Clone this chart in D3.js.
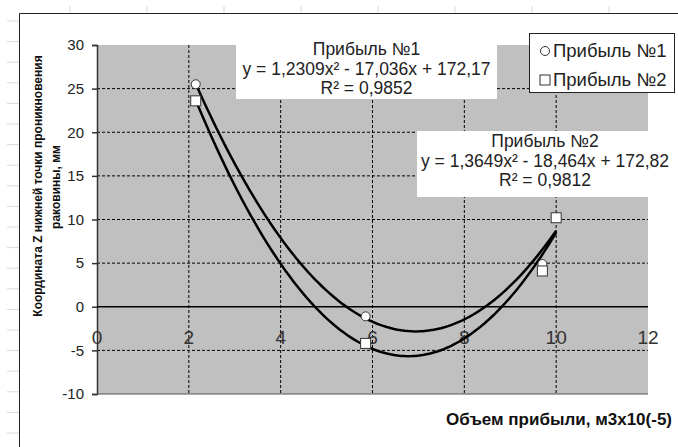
<!DOCTYPE html>
<html>
<head>
<meta charset="utf-8">
<script src="https://cdn.jsdelivr.net/npm/d3@7"></script>
<style>
  body { margin: 0; background: #fff; }
  svg text { font-family: "Liberation Sans", Arial, sans-serif; }
</style>
</head>
<body>
<div id="chart"></div>
<script>
// data
const xTicks = [0, 2, 4, 6, 8, 10, 12];
const yTicks = [-10, -5, 0, 5, 10, 15, 20, 25, 30];
const profit1X = [2.15, 5.85, 9.7, 10.0];
const profit1Y = [25.5, -1.1, 4.9, 10.2];
const profit2X = [2.15, 5.85, 9.7, 10.0];
const profit2Y = [23.6, -4.2, 4.1, 10.2];
const seriesNames = ["Прибыль №1", "Прибыль №2"];
const eq1 = ["Прибыль №1", "y = 1,2309x² - 17,036x + 172,17", "R² = 0,9852"];
const eq2 = ["Прибыль №2", "y = 1,3649x² - 18,464x + 172,82", "R² = 0,9812"];

var width = 678, height = 447;

var svg = d3.select("#chart")
    .append("svg")
    .attr("width", width)
    .attr("height", height);

// faint sheet cells behind the chart
for (let i = 0; i < 22; i++) {
    svg.append("line").attr("x1", 7).attr("x2", 19)
        .attr("y1", 21 + i * 20.6).attr("y2", 21 + i * 20.6)
        .attr("stroke", "#d4dae2").attr("stroke-width", 1);
}
for (let i = 0; i < 8; i++) {
    svg.append("line").attr("x1", 70 + i * 77).attr("x2", 70 + i * 77)
        .attr("y1", 6).attr("y2", 13)
        .attr("stroke", "#d4dae2").attr("stroke-width", 1);
}
// chart frame
svg.append("path").attr("d", "M19.5,447 V13.5 H678")
    .attr("fill", "none").attr("stroke", "#222").attr("stroke-width", 1);

var x = d3.scaleLinear().domain([0, 12]).range([97, 648]);
var y = d3.scaleLinear().domain([-10, 30]).range([394, 45]);

// plot area
svg.append("rect")
    .attr("x", x(0)).attr("y", y(30))
    .attr("width", x(12) - x(0)).attr("height", y(-10) - y(30))
    .attr("fill", "#c0c0c0");

// grid
svg.selectAll(".vgrid")
    .data(xTicks.filter(d => d > 0 && d < 12))
    .enter().append("line")
    .attr("x1", d => x(d)).attr("x2", d => x(d))
    .attr("y1", y(30)).attr("y2", y(-10))
    .attr("stroke", "#000").attr("stroke-width", 1)
    .attr("stroke-dasharray", "3,2");
svg.selectAll(".hgrid")
    .data(yTicks.filter(d => d != 0 && d != -10 && d != 30))
    .enter().append("line")
    .attr("x1", x(0)).attr("x2", x(12))
    .attr("y1", d => y(d)).attr("y2", d => y(d))
    .attr("stroke", "#000").attr("stroke-width", 1)
    .attr("stroke-dasharray", "3,2");

// y axis
var yAxis = d3.axisLeft(y).tickValues(yTicks).tickSize(5).tickPadding(8)
    .tickFormat(d => String(d));
var gy = svg.append("g").attr("transform", "translate(" + x(0) + ",0)").call(yAxis);
gy.select(".domain").attr("stroke", "#333").attr("stroke-width", 1.5);
gy.selectAll(".tick line").attr("stroke", "#333").attr("stroke-width", 1.5);
gy.selectAll(".tick text").attr("font-size", 15).attr("fill", "#222")
    .attr("font-family", "Liberation Sans, Arial, sans-serif");

// zero line + x axis labels
svg.append("line")
    .attr("x1", x(0)).attr("x2", x(12))
    .attr("y1", y(0)).attr("y2", y(0))
    .attr("stroke", "#000").attr("stroke-width", 1.5);
svg.append("line")
    .attr("x1", x(0)).attr("x2", x(12))
    .attr("y1", y(-10)).attr("y2", y(-10))
    .attr("stroke", "#555").attr("stroke-width", 1);
svg.selectAll(".xlab")
    .data(xTicks)
    .enter().append("text")
    .attr("x", d => x(d)).attr("y", y(0) + 37)
    .attr("text-anchor", "middle")
    .attr("font-size", 19).attr("fill", "#333")
    .text(d => d);

// quadratic least squares like the Excel trendline
function quadFit(xs, ys) {
    let s = [0, 0, 0, 0, 0], t = [0, 0, 0];
    xs.forEach((xv, i) => {
        for (let k = 0; k < 5; k++) s[k] += Math.pow(xv, k);
        for (let k = 0; k < 3; k++) t[k] += ys[i] * Math.pow(xv, k);
    });
    let m = [[s[0], s[1], s[2], t[0]], [s[1], s[2], s[3], t[1]], [s[2], s[3], s[4], t[2]]];
    for (let i = 0; i < 3; i++) {
        for (let j = i + 1; j < 3; j++) {
            let f = m[j][i] / m[i][i];
            for (let k = i; k < 4; k++) m[j][k] -= f * m[i][k];
        }
    }
    let c = [0, 0, 0];
    for (let i = 2; i >= 0; i--) {
        let v = m[i][3];
        for (let k = i + 1; k < 3; k++) v -= m[i][k] * c[k];
        c[i] = v / m[i][i];
    }
    return c; // c0 + c1 x + c2 x^2
}

var line = d3.line().x(d => x(d[0])).y(d => y(d[1]));
[[profit1X, profit1Y], [profit2X, profit2Y]].forEach(function (s) {
    let c = quadFit(s[0], s[1]);
    let lo = d3.min(s[0]), hi = d3.max(s[0]);
    let pts = d3.range(0, 101).map(i => {
        let xv = lo + (hi - lo) * i / 100;
        return [xv, c[0] + c[1] * xv + c[2] * xv * xv];
    });
    svg.append("path").datum(pts)
        .attr("d", line)
        .attr("fill", "none").attr("stroke", "#000").attr("stroke-width", 2.5);
});

// markers
svg.selectAll(".p1")
    .data(profit1X.map((d, i) => [d, profit1Y[i]]))
    .enter().append("circle")
    .attr("cx", d => x(d[0])).attr("cy", d => y(d[1])).attr("r", 4.5)
    .attr("fill", "#fff").attr("stroke", "#333").attr("stroke-width", 1);
svg.selectAll(".p2")
    .data(profit2X.map((d, i) => [d, profit2Y[i]]))
    .enter().append("rect")
    .attr("x", d => x(d[0]) - 5).attr("y", d => y(d[1]) - 5)
    .attr("width", 10).attr("height", 10)
    .attr("fill", "#fff").attr("stroke", "#333").attr("stroke-width", 1);

// trendline labels
function eqBox(lines, x0, y0, w, h) {
    svg.append("rect").attr("x", x0).attr("y", y0).attr("width", w).attr("height", h)
        .attr("fill", "#fff");
    svg.selectAll(null)
        .data(lines)
        .enter().append("text")
        .attr("x", x0 + w / 2).attr("y", (d, i) => y0 + 16 + i * 19.5)
        .attr("text-anchor", "middle")
        .attr("font-size", 17.5).attr("fill", "#222")
        .text(d => d);
}
eqBox(eq1, 236, 39, 261, 60);
eqBox(eq2, 417, 131, 256, 66);

// legend
svg.append("rect").attr("x", 529.5).attr("y", 33.5).attr("width", 145).attr("height", 59)
    .attr("fill", "#fff").attr("stroke", "#222").attr("stroke-width", 1);
svg.append("circle").attr("cx", 545).attr("cy", 51).attr("r", 4.5)
    .attr("fill", "#fff").attr("stroke", "#333");
svg.append("rect").attr("x", 540).attr("y", 75).attr("width", 10).attr("height", 10)
    .attr("fill", "#fff").attr("stroke", "#333");
svg.selectAll(".leg")
    .data(seriesNames)
    .enter().append("text")
    .attr("x", 553).attr("y", (d, i) => 57 + i * 29)
    .attr("font-size", 18.5).attr("fill", "#222")
    .text(d => d);

// axis titles
svg.append("text")
    .attr("transform", "translate(42,186) rotate(-90)")
    .attr("text-anchor", "middle")
    .attr("font-size", 12).attr("font-weight", "bold").attr("fill", "#111")
    .text("Координата Z нижней точки проникновения");
svg.append("text")
    .attr("transform", "translate(60,187) rotate(-90)")
    .attr("text-anchor", "middle")
    .attr("font-size", 12).attr("font-weight", "bold").attr("fill", "#111")
    .text("раковины, мм");
svg.append("text")
    .attr("x", 672).attr("y", 425)
    .attr("text-anchor", "end")
    .attr("font-size", 17).attr("font-weight", "bold").attr("fill", "#111")
    .text("Объем прибыли, м3х10(-5)");
</script>
</body>
</html>
